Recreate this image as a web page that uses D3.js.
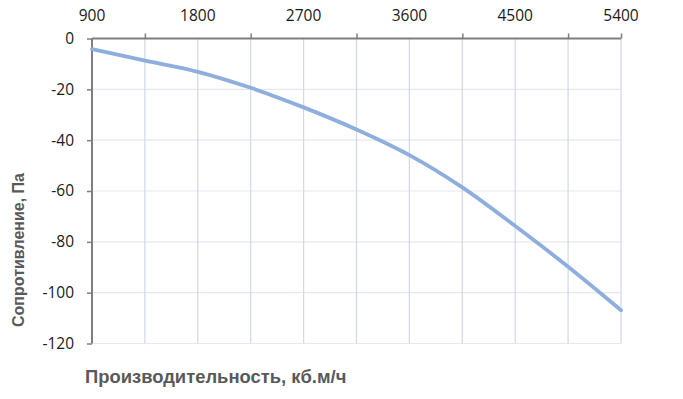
<!DOCTYPE html>
<html>
  <head>
    <meta charset="utf-8" />
    <title>Сопротивление</title>
    <script src="https://d3js.org/d3.v7.min.js"></script>
    <style>
      body { margin: 0; background: #fff; }
    </style>
  </head>
  <body>
    <svg id="chart" width="683" height="399"></svg>

    <script>
      var flow = [900, 1350, 1800, 2250, 2700, 3150, 3600, 4050, 4500, 4950, 5400];
      var pressure = [-4.2, -8.7, -13.1, -19.4, -27.1, -35.8, -45.9, -58.6, -73.8, -89.8, -106.9];
      var xTickLabels = [900, 1800, 2700, 3600, 4500, 5400];
      var xMinorTicks = [1350, 2250, 3150, 4050, 4950, 5400];
      var yTickLabels = [0, -20, -40, -60, -80, -100, -120];

      var points = flow.map(function (f, i) {
        return { x: f, y: pressure[i] };
      });

      // plot area edges (note: "top" is reserved on window)
      var plotLeft = 92, plotRight = 621, plotTop = 38.5, plotBottom = 343.5;

      var x = d3.scaleLinear().domain([900, 5400]).range([plotLeft, plotRight]);
      var y = d3.scaleLinear().domain([0, -120]).range([plotTop, plotBottom]);

      var svg = d3.select("#chart");

      // horizontal grid
      svg.append("g")
        .selectAll("line")
        .data(yTickLabels.slice(1))
        .enter()
        .append("line")
        .attr("x1", plotLeft)
        .attr("x2", plotRight)
        .attr("y1", function (d) { return y(d); })
        .attr("y2", function (d) { return y(d); })
        .style("stroke", "#e4e8f0")
        .style("stroke-width", 1.2);

      // vertical grid, every 450
      svg.append("g")
        .selectAll("line")
        .data(d3.range(1350, 5401, 450))
        .enter()
        .append("line")
        .attr("x1", function (d) { return x(d); })
        .attr("x2", function (d) { return x(d); })
        .attr("y1", plotTop)
        .attr("y2", plotBottom)
        .style("stroke", "#cfd9ea")
        .style("stroke-width", 1.2);

      // top axis
      var xAxis = d3.axisTop(x)
        .tickValues(xMinorTicks)
        .tickSize(5)
        .tickFormat("");
      var gx = svg.append("g")
        .attr("transform", "translate(0," + plotTop + ")")
        .call(xAxis);
      gx.select(".domain").attr("d", "M" + plotLeft + ",0H" + plotRight)
        .style("stroke", "#7f7f7f").style("stroke-width", 2);
      gx.selectAll(".tick line").style("stroke", "#7f7f7f").style("stroke-width", 1.5);

      svg.append("g")
        .selectAll("text")
        .data(xTickLabels)
        .enter()
        .append("text")
        .attr("x", function (d) { return x(d); })
        .attr("y", 21)
        .attr("text-anchor", "middle")
        .style("font-family", "'Open Sans', sans-serif")
        .style("font-size", "15.5px")
        .style("fill", "#1a1a1a")
        .text(function (d) { return d; });

      // left axis
      var yAxis = d3.axisLeft(y)
        .tickValues(yTickLabels)
        .tickSize(5)
        .tickPadding(13)
        .tickFormat(function (d) { return d; });
      var gy = svg.append("g")
        .attr("transform", "translate(" + plotLeft + ",0)")
        .call(yAxis);
      gy.select(".domain").attr("d", "M0," + plotTop + "V" + plotBottom)
        .style("stroke", "#7f7f7f").style("stroke-width", 2);
      gy.selectAll(".tick line").style("stroke", "#7f7f7f").style("stroke-width", 1.5);
      gy.selectAll(".tick text")
        .style("font-family", "'Open Sans', sans-serif")
        .style("font-size", "15.5px")
        .style("fill", "#1a1a1a");

      // curve
      var line = d3.line()
        .x(function (d) { return x(d.x); })
        .y(function (d) { return y(d.y); })
        .curve(d3.curveCatmullRom.alpha(0.5));

      svg.append("path")
        .datum(points)
        .attr("d", line)
        .style("fill", "none")
        .style("stroke", "#8eaedd")
        .style("stroke-width", 3.8)
        .style("stroke-linecap", "round");

      // axis titles
      svg.append("text")
        .attr("x", 85)
        .attr("y", 383)
        .style("font-family", "'Liberation Sans', Arial, sans-serif")
        .style("font-weight", "bold")
        .style("font-size", "18.4px")
        .style("fill", "#595959")
        .text("Производительность, кб.м/ч");

      svg.append("text")
        .attr("transform", "translate(24,250) rotate(-90)")
        .attr("text-anchor", "middle")
        .style("font-family", "'Liberation Sans', Arial, sans-serif")
        .style("font-weight", "bold")
        .style("font-size", "16px")
        .style("fill", "#595959")
        .text("Сопротивление, Па");
    </script>
  </body>
</html>
